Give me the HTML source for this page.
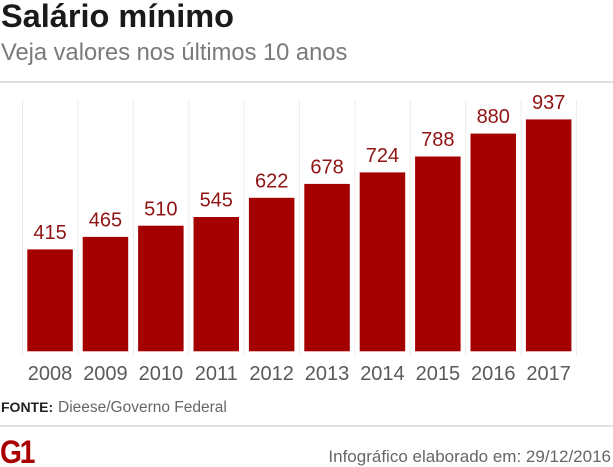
<!DOCTYPE html>
<html>
<head>
<meta charset="utf-8">
<style>
  html,body{margin:0;padding:0;background:#fff;}
  body{width:613px;height:467px;overflow:hidden;position:relative;}
  svg{position:absolute;left:0;top:0;}
  text{font-family:"Liberation Sans",Arial,sans-serif;}
</style>
</head>
<body>
<svg width="613" height="467" viewBox="0 0 613 467" xmlns="http://www.w3.org/2000/svg">
  <!-- title -->
  <text x="1" y="27" font-size="32.5" font-weight="bold" fill="#1a1a1a">Salário mínimo</text>
  <text x="1" y="60" font-size="23.7" fill="#7a7a7a">Veja valores nos últimos 10 anos</text>
  <rect x="0" y="81" width="613" height="2" fill="#dedede"/>

  <!-- grid lines -->
  <g stroke="#ececec" stroke-width="1">
    <line x1="22.5" y1="100" x2="22.5" y2="355"/>
    <line x1="77.9" y1="100" x2="77.9" y2="355"/>
    <line x1="133.3" y1="100" x2="133.3" y2="355"/>
    <line x1="188.7" y1="100" x2="188.7" y2="355"/>
    <line x1="244.1" y1="100" x2="244.1" y2="355"/>
    <line x1="299.5" y1="100" x2="299.5" y2="355"/>
    <line x1="354.9" y1="100" x2="354.9" y2="355"/>
    <line x1="410.3" y1="100" x2="410.3" y2="355"/>
    <line x1="465.7" y1="100" x2="465.7" y2="355"/>
    <line x1="521.1" y1="100" x2="521.1" y2="355"/>
    <line x1="576.5" y1="100" x2="576.5" y2="355"/>
  </g>

  <!-- bars -->
  <g fill="#a50000">
    <rect x="27.3" y="249.4" width="45.5" height="101.9"/>
    <rect x="82.7" y="236.9" width="45.5" height="114.4"/>
    <rect x="138.1" y="225.7" width="45.5" height="125.6"/>
    <rect x="193.5" y="217.0" width="45.5" height="134.3"/>
    <rect x="248.9" y="197.8" width="45.5" height="153.5"/>
    <rect x="304.3" y="183.9" width="45.5" height="167.4"/>
    <rect x="359.7" y="172.4" width="45.5" height="178.9"/>
    <rect x="415.1" y="156.5" width="45.5" height="194.8"/>
    <rect x="470.5" y="133.6" width="45.5" height="217.7"/>
    <rect x="525.9" y="119.4" width="45.5" height="231.9"/>
  </g>

  <!-- value labels -->
  <g font-size="20" fill="#901414" text-anchor="middle">
    <text x="50.05" y="239">415</text>
    <text x="105.45" y="226.5">465</text>
    <text x="160.85" y="215.3">510</text>
    <text x="216.25" y="206.6">545</text>
    <text x="271.65" y="187.4">622</text>
    <text x="327.05" y="173.5">678</text>
    <text x="382.45" y="162">724</text>
    <text x="437.85" y="146.1">788</text>
    <text x="493.25" y="123.2">880</text>
    <text x="548.65" y="109">937</text>
  </g>

  <!-- year labels -->
  <g font-size="20" fill="#5a5a5a" text-anchor="middle">
    <text x="50.05" y="380">2008</text>
    <text x="105.45" y="380">2009</text>
    <text x="160.85" y="380">2010</text>
    <text x="216.25" y="380">2011</text>
    <text x="271.65" y="380">2012</text>
    <text x="327.05" y="380">2013</text>
    <text x="382.45" y="380">2014</text>
    <text x="437.85" y="380">2015</text>
    <text x="493.25" y="380">2016</text>
    <text x="548.65" y="380">2017</text>
  </g>

  <!-- source -->
  <text x="1" y="412" font-size="14" font-weight="bold" fill="#222">FONTE:</text>
  <text x="58" y="412" font-size="15.5" fill="#666">Dieese/Governo Federal</text>
  <rect x="0" y="425" width="613" height="2" fill="#e0e0e0"/>

  <!-- G1 logo -->
  <text x="0" y="463" font-size="32" font-weight="bold" fill="#a80000" transform="scale(0.88,1)" letter-spacing="-2.5">G1</text>

  <text x="611" y="462" font-size="17" fill="#666" text-anchor="end">Infográfico elaborado em: 29/12/2016</text>
</svg>
</body>
</html>
